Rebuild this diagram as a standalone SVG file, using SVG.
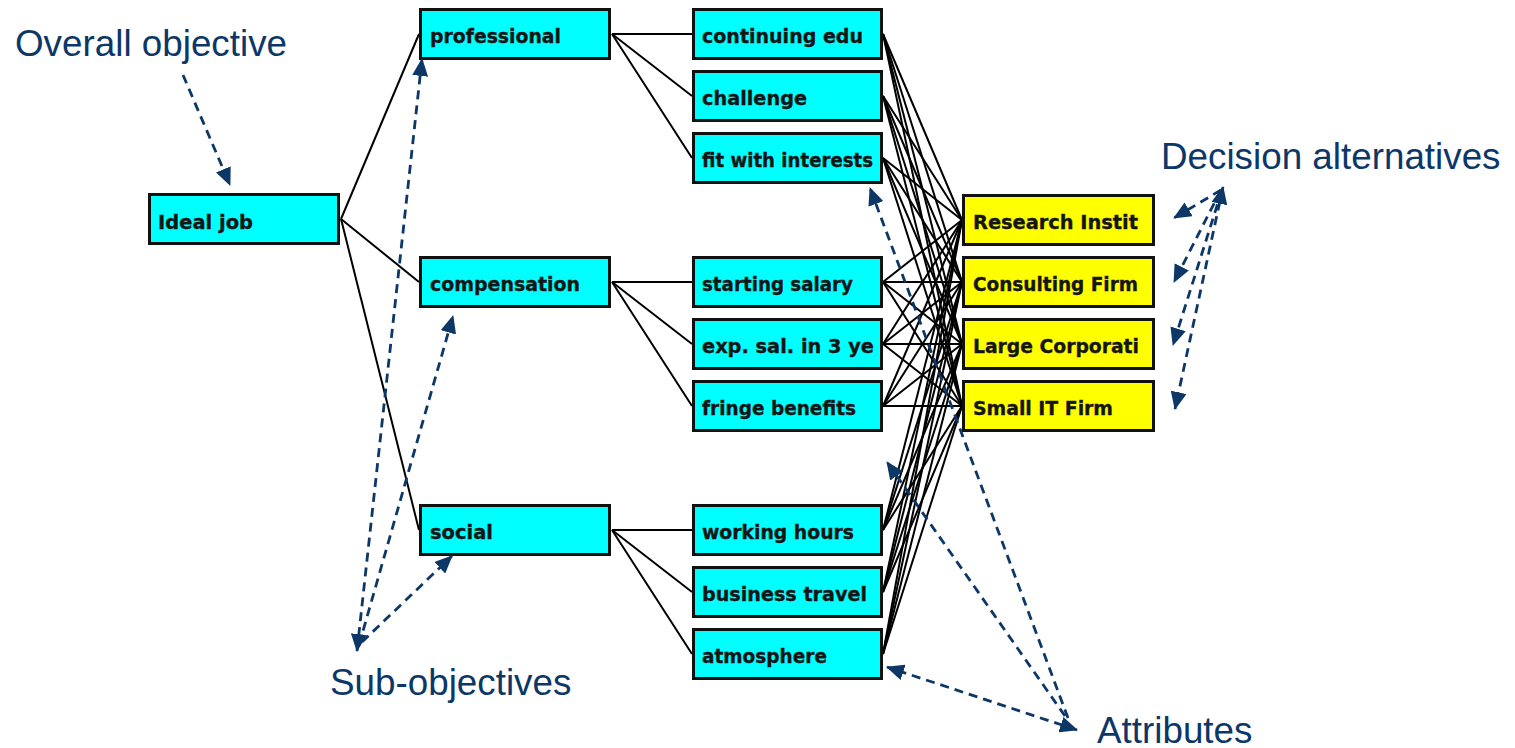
<svg xmlns="http://www.w3.org/2000/svg" width="1515" height="748" viewBox="0 0 1515 748">
  <style>
    .box rect { stroke: #111; stroke-width: 3; }
    .obj rect { fill: #00ffff; }
    .alt rect { fill: #ffff00; }
    .box text { font-family: "DejaVu Sans", "Liberation Sans", sans-serif; font-weight: bold; font-size: 19.5px; fill: #151515; stroke: #151515; stroke-width: 0.35; }
    .links line { stroke: #000; stroke-width: 2; }
    .note { font-family: "Liberation Sans", Arial, sans-serif; font-size: 36.8px; fill: #0c3767; }
    .pointers line { stroke: #0c3767; stroke-width: 2.8; stroke-dasharray: 9 6; fill: none; }
  </style>
  <defs>
    <marker id="head" markerUnits="userSpaceOnUse" markerWidth="18" markerHeight="16" refX="17" refY="8" orient="auto-start-reverse">
      <path d="M0,0 L18,8 L0,16 Z" fill="#0c3767"/>
    </marker>
  </defs>

  <rect width="1515" height="748" fill="#ffffff"/>

  <!-- hierarchy connectors -->
  <g id="connectors" class="links">
    <!-- goal to sub-objectives -->
    <line x1="341" y1="219" x2="419" y2="34"/>
    <line x1="341" y1="219" x2="419" y2="282"/>
    <line x1="341" y1="219" x2="419" y2="530"/>
    <!-- sub-objectives to attributes -->
    <line x1="612" y1="34" x2="692" y2="34"/>
    <line x1="612" y1="34" x2="692" y2="96"/>
    <line x1="612" y1="34" x2="692" y2="158"/>
    <line x1="612" y1="282" x2="692" y2="282"/>
    <line x1="612" y1="282" x2="692" y2="344"/>
    <line x1="612" y1="282" x2="692" y2="406"/>
    <line x1="612" y1="530" x2="692" y2="530"/>
    <line x1="612" y1="530" x2="692" y2="592"/>
    <line x1="612" y1="530" x2="692" y2="654"/>
    <!-- attributes to alternatives -->
    <line x1="883" y1="34" x2="962" y2="220"/><line x1="883" y1="34" x2="962" y2="282"/><line x1="883" y1="34" x2="962" y2="344"/><line x1="883" y1="34" x2="962" y2="406"/>
    <line x1="883" y1="96" x2="962" y2="220"/><line x1="883" y1="96" x2="962" y2="282"/><line x1="883" y1="96" x2="962" y2="344"/><line x1="883" y1="96" x2="962" y2="406"/>
    <line x1="883" y1="158" x2="962" y2="220"/><line x1="883" y1="158" x2="962" y2="282"/><line x1="883" y1="158" x2="962" y2="344"/><line x1="883" y1="158" x2="962" y2="406"/>
    <line x1="883" y1="282" x2="962" y2="220"/><line x1="883" y1="282" x2="962" y2="282"/><line x1="883" y1="282" x2="962" y2="344"/><line x1="883" y1="282" x2="962" y2="406"/>
    <line x1="883" y1="344" x2="962" y2="220"/><line x1="883" y1="344" x2="962" y2="282"/><line x1="883" y1="344" x2="962" y2="344"/><line x1="883" y1="344" x2="962" y2="406"/>
    <line x1="883" y1="406" x2="962" y2="220"/><line x1="883" y1="406" x2="962" y2="282"/><line x1="883" y1="406" x2="962" y2="344"/><line x1="883" y1="406" x2="962" y2="406"/>
    <line x1="883" y1="530" x2="962" y2="220"/><line x1="883" y1="530" x2="962" y2="282"/><line x1="883" y1="530" x2="962" y2="344"/><line x1="883" y1="530" x2="962" y2="406"/>
    <line x1="883" y1="592" x2="962" y2="220"/><line x1="883" y1="592" x2="962" y2="282"/><line x1="883" y1="592" x2="962" y2="344"/><line x1="883" y1="592" x2="962" y2="406"/>
    <line x1="883" y1="654" x2="962" y2="220"/><line x1="883" y1="654" x2="962" y2="282"/><line x1="883" y1="654" x2="962" y2="344"/><line x1="883" y1="654" x2="962" y2="406"/>
  </g>

  <!-- goal -->
  <g id="ideal-job" class="box obj"><rect x="149.5" y="194.5" width="189" height="49"/><text x="158" y="229" textLength="95" lengthAdjust="spacingAndGlyphs">Ideal job</text></g>

  <!-- sub-objectives -->
  <g id="professional" class="box obj"><rect x="420.5" y="9.5" width="189" height="49"/><text x="430" y="43" textLength="131" lengthAdjust="spacingAndGlyphs">professional</text></g>
  <g id="compensation" class="box obj"><rect x="420.5" y="257.5" width="189" height="49"/><text x="430" y="291" textLength="150" lengthAdjust="spacingAndGlyphs">compensation</text></g>
  <g id="social" class="box obj"><rect x="420.5" y="505.5" width="189" height="49"/><text x="430" y="539" textLength="63" lengthAdjust="spacingAndGlyphs">social</text></g>

  <!-- attributes -->
  <g id="continuing-edu" class="box obj"><rect x="693.5" y="9.5" width="188" height="49"/><text x="702" y="43" textLength="161" lengthAdjust="spacingAndGlyphs">continuing edu</text></g>
  <g id="challenge" class="box obj"><rect x="693.5" y="71.5" width="188" height="49"/><text x="702" y="105" textLength="105" lengthAdjust="spacingAndGlyphs">challenge</text></g>
  <g id="fit-with-interests" class="box obj"><rect x="693.5" y="133.5" width="188" height="49"/><text x="702" y="167" textLength="171" lengthAdjust="spacingAndGlyphs">fit with interests</text></g>
  <g id="starting-salary" class="box obj"><rect x="693.5" y="257.5" width="188" height="49"/><text x="702" y="291" textLength="151" lengthAdjust="spacingAndGlyphs">starting salary</text></g>
  <g id="exp-salary" class="box obj"><rect x="693.5" y="319.5" width="188" height="49"/><text x="702" y="353" textLength="172" lengthAdjust="spacingAndGlyphs">exp. sal. in 3 ye</text></g>
  <g id="fringe-benefits" class="box obj"><rect x="693.5" y="381.5" width="188" height="49"/><text x="702" y="415" textLength="154" lengthAdjust="spacingAndGlyphs">fringe benefits</text></g>
  <g id="working-hours" class="box obj"><rect x="693.5" y="505.5" width="188" height="49"/><text x="702" y="539" textLength="152" lengthAdjust="spacingAndGlyphs">working hours</text></g>
  <g id="business-travel" class="box obj"><rect x="693.5" y="567.5" width="188" height="49"/><text x="702" y="601" textLength="165" lengthAdjust="spacingAndGlyphs">business travel</text></g>
  <g id="atmosphere" class="box obj"><rect x="693.5" y="629.5" width="188" height="49"/><text x="702" y="663" textLength="125" lengthAdjust="spacingAndGlyphs">atmosphere</text></g>

  <!-- alternatives -->
  <g id="research-instit" class="box alt"><rect x="963.5" y="195.5" width="190" height="49"/><text x="973" y="229" textLength="165" lengthAdjust="spacingAndGlyphs">Research Instit</text></g>
  <g id="consulting-firm" class="box alt"><rect x="963.5" y="257.5" width="190" height="49"/><text x="973" y="291" textLength="165" lengthAdjust="spacingAndGlyphs">Consulting Firm</text></g>
  <g id="large-corporati" class="box alt"><rect x="963.5" y="319.5" width="190" height="49"/><text x="973" y="353" textLength="166" lengthAdjust="spacingAndGlyphs">Large Corporati</text></g>
  <g id="small-it-firm" class="box alt"><rect x="963.5" y="381.5" width="190" height="49"/><text x="973" y="415" textLength="140" lengthAdjust="spacingAndGlyphs">Small IT Firm</text></g>

  <!-- callout labels -->
  <g id="labels">
    <text class="note" x="15" y="56">Overall objective</text>
    <text class="note" x="1161" y="169">Decision alternatives</text>
    <text class="note" x="330" y="695">Sub-objectives</text>
    <text class="note" x="1097" y="743">Attributes</text>
  </g>

  <!-- dashed callout pointers -->
  <g id="pointers" class="pointers">
    <line x1="183" y1="75" x2="230" y2="185" marker-end="url(#head)"/>

    <line x1="357" y1="651" x2="422" y2="59" marker-start="url(#head)" marker-end="url(#head)"/>
    <line x1="359" y1="645" x2="453" y2="316" marker-end="url(#head)"/>
    <line x1="362" y1="642" x2="452" y2="556" marker-end="url(#head)"/>

    <line x1="1221" y1="190" x2="1174" y2="218" marker-end="url(#head)"/>
    <line x1="1221" y1="190" x2="1174" y2="282" marker-end="url(#head)"/>
    <line x1="1222" y1="190" x2="1173" y2="345" marker-end="url(#head)"/>
    <line x1="1223" y1="187" x2="1175" y2="409" marker-start="url(#head)" marker-end="url(#head)"/>

    <line x1="1068" y1="718" x2="870" y2="188" marker-end="url(#head)"/>
    <line x1="1065" y1="716" x2="887" y2="462" marker-end="url(#head)"/>
    <line x1="1077" y1="730" x2="887" y2="667" marker-start="url(#head)" marker-end="url(#head)"/>
  </g>
</svg>
